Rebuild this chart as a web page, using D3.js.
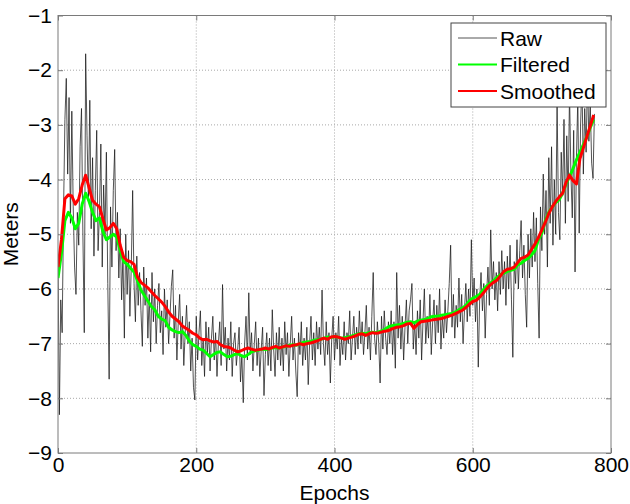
<!DOCTYPE html>
<html>
<head>
<meta charset="utf-8">
<script src="https://cdn.jsdelivr.net/npm/d3@7"></script>
<style>
  body { margin: 0; background: #fff; }
  svg text { font-family: Arial, "Liberation Sans", sans-serif; }
</style>
</head>
<body>
<div id="chart"></div>
<script>
// x ticks / y ticks
var xTicks = [0, 200, 400, 600, 800];
var yTicks = [-9, -8, -7, -6, -5, -4, -3, -2, -1];

// raw samples, one every 2 epochs starting at 0
var rawStep = 2;
var rawValues = [
  -5.5, -8.3, -6.2, -6.8, -4.6, -2.9, -2.15, -3.9, -2.5, -4.8, -2.75, -4.5, -5.6, -6.1, -4.6, -5.2, -3.4, -2.7, -5.0, -6.8,
  -1.7, -3.2, -4.4, -2.55, -4.9, -3.6, -5.4, -4.2, -3.1, -5.3, -4.6, -3.35, -5.6, -4.1, -5.0, -3.5, -5.9, -7.65, -4.5, -5.6,
  -4.2, -3.45, -5.3, -4.6, -5.8, -4.9, -6.2, -5.4, -6.9, -5.0, -6.1, -5.3, -6.5, -5.6, -4.2, -5.9, -6.6, -5.4, -6.3, -5.7,
  -6.4, -7.05, -5.6, -6.3, -5.8, -6.9, -6.1, -7.15, -5.7, -6.6, -6.0, -7.0, -6.3, -5.9, -6.8, -6.4, -7.2, -6.0, -6.7, -6.2,
  -7.0, -6.5, -5.95, -5.65, -6.9, -6.3, -7.3, -6.6, -6.1, -7.1, -6.5, -7.4, -6.8, -6.3, -7.0, -6.6, -7.5, -6.9, -7.8, -8.03,
  -6.5, -7.3, -6.8, -6.4, -7.4, -6.9, -7.6, -6.6, -7.2, -6.7, -7.5, -6.9, -6.5, -7.3, -6.8, -7.6, -7.0, -6.6, -7.4, -5.92,
  -7.1, -6.7, -7.5, -6.9, -7.3, -6.6, -7.6, -7.0, -6.8, -7.4, -7.1, -6.7, -7.7, -7.2, -8.08, -7.0, -6.5, -7.3, -6.07, -7.2,
  -6.8, -7.5, -7.0, -6.6, -7.4, -6.9, -7.6, -7.1, -6.7, -7.95, -7.2, -6.8, -7.4, -6.9, -7.5, -6.38, -7.1, -7.6, -6.8, -7.3,
  -6.7, -7.4, -6.9, -7.5, -6.6, -7.2, -6.8, -7.6, -7.0, -6.5, -7.3, -6.9, -7.5, -7.97, -6.8, -7.2, -6.6, -7.4, -6.9, -7.3,
  -6.7, -7.75, -7.0, -6.5, -7.3, -6.8, -7.4, -6.6, -7.1, -6.7, -7.2, -6.02, -7.0, -7.4, -6.6, -7.2, -6.8, -7.72, -6.9, -6.5,
  -7.3, -6.8, -7.1, -6.5, -7.4, -6.9, -7.2, -6.6, -7.3, -6.8, -7.0, -6.4, -7.3, -6.9, -6.5, -7.2, -6.7, -7.1, -6.4, -7.0,
  -6.6, -7.2, -6.8, -6.3, -7.1, -6.7, -7.3, -6.5, -5.7, -6.9, -7.2, -6.6, -7.0, -7.72, -6.5, -7.1, -6.4, -6.9, -7.2, -6.6,
  -7.0, -6.4, -7.2, -6.6, -7.45, -5.7, -6.9, -6.3, -7.1, -6.5, -7.3, -6.7, -6.2, -7.0, -6.4, -6.2, -5.9, -7.1, -6.6, -7.2,
  -6.4, -6.9, -6.2, -7.3, -6.6, -6.0, -7.0, -6.5, -6.9, -6.1, -7.2, -6.6, -6.2, -7.0, -6.3, -6.8, -6.0, -7.1, -6.5, -6.9,
  -6.2, -6.8, -6.4, -5.9, -5.2, -6.7, -6.1, -6.9, -6.3, -6.7, -5.8, -6.6, -6.1, -7.0, -6.4, -5.9, -6.6, -6.0, -6.5, -5.1,
  -6.3, -5.8, -6.6, -6.0, -7.43, -6.2, -5.7, -6.4, -5.9, -6.9, -6.1, -5.6, -6.3, -4.92, -6.0, -5.5, -6.2, -5.7, -6.4, -5.5,
  -6.1, -5.3, -6.0, -5.5, -6.3, -5.4, -6.0, -5.2, -6.2, -7.25, -5.5, -5.9, -5.1, -6.0, -5.3, -4.75, -5.8, -5.2, -6.1, -6.7,
  -5.0, -5.8, -4.9, -5.6, -4.6, -5.5, -4.7, -5.9, -6.9, -4.5, -5.3, -3.9, -5.0, -4.2, -5.6, -3.6, -4.8, -3.4, -5.2, -4.0,
  -5.0, -2.6, -4.6, -5.1, -3.5, -4.3, -2.9, -4.8, -3.2, -4.4, -2.4, -3.9, -4.7, -3.1, -5.69, -3.6, -2.5, -4.98, -3.0, -2.2,
  -3.9, -2.7, -3.5, -2.1, -3.3, -2.6, -3.7, -3.98, -2.8
];

// filtered and smoothed, one every 5 epochs starting at 0
var fitStep = 5;
var filteredValues = [
  -5.8, -5.35, -4.75, -4.6, -4.7, -4.9, -4.8, -4.45, -4.25, -4.4, -4.6, -4.75, -4.7, -4.95, -5.1, -5.05, -5.0, -5.05, -5.3, -5.5,
  -5.55, -5.62, -5.69, -5.85, -6.02, -6.12, -6.22, -6.32, -6.38, -6.5, -6.55, -6.58, -6.7, -6.75, -6.78, -6.8, -6.78, -6.85, -6.95, -7.02,
  -7.05, -7.1, -7.12, -7.18, -7.24, -7.2, -7.16, -7.15, -7.2, -7.24, -7.23, -7.2, -7.18, -7.22, -7.24, -7.2, -7.15, -7.13, -7.12, -7.1,
  -7.11, -7.1, -7.08, -7.07, -7.08, -7.06, -7.05, -7.03, -7.02, -7.03, -7.0, -6.98, -6.97, -6.96, -6.94, -6.93, -6.92, -6.9, -6.88, -6.89,
  -6.87, -6.88, -6.9, -6.89, -6.88, -6.86, -6.84, -6.82, -6.81, -6.82, -6.8, -6.79, -6.8, -6.78, -6.76, -6.72, -6.68, -6.67, -6.66, -6.65,
  -6.63, -6.61, -6.6, -6.62, -6.59, -6.57, -6.56, -6.54, -6.51, -6.5, -6.5, -6.48, -6.47, -6.46, -6.45, -6.42, -6.38, -6.35, -6.3, -6.22,
  -6.17, -6.14, -6.1, -6.02, -5.95, -5.9, -5.85, -5.79, -5.74, -5.71, -5.68, -5.66, -5.64, -5.56, -5.53, -5.48, -5.44, -5.38, -5.3, -5.1,
  -4.98, -4.75, -4.6, -4.5, -4.42, -4.37, -4.25, -4.08, -3.95, -3.8, -3.64, -3.5, -3.36, -3.22, -3.05, -2.9
];
var smoothedValues = [
  -5.6, -5.1, -4.35, -4.28, -4.3, -4.45, -4.35, -4.1, -3.92, -4.15, -4.38, -4.45, -4.5, -4.72, -4.92, -4.88, -4.8, -4.9, -5.2, -5.42,
  -5.48, -5.5, -5.55, -5.78, -5.88, -5.93, -5.98, -6.05, -6.12, -6.18, -6.24, -6.32, -6.42, -6.5, -6.55, -6.6, -6.68, -6.72, -6.76, -6.81,
  -6.84, -6.9, -6.93, -6.92, -6.95, -6.97, -6.96, -7.02, -7.05, -7.06, -7.08, -7.12, -7.15, -7.13, -7.1, -7.08, -7.1, -7.12, -7.11, -7.1,
  -7.08, -7.1, -7.07, -7.05, -7.08, -7.06, -7.04, -7.05, -7.03, -7.02, -7.0, -7.02, -7.0, -6.99, -6.97, -6.95, -6.92, -6.9, -6.92, -6.88,
  -6.87, -6.88, -6.9, -6.92, -6.9, -6.88, -6.86, -6.83, -6.82, -6.85, -6.82, -6.8, -6.81, -6.8, -6.78, -6.77, -6.75, -6.72, -6.7, -6.69,
  -6.67, -6.64, -6.63, -6.72, -6.65, -6.6, -6.59, -6.58, -6.57, -6.56, -6.55, -6.54, -6.52, -6.5, -6.48, -6.45, -6.42, -6.39, -6.34, -6.28,
  -6.23, -6.21, -6.15, -6.08, -6.0, -5.93, -5.88, -5.84, -5.76, -5.68, -5.64, -5.63, -5.6, -5.52, -5.44, -5.42, -5.38, -5.28, -5.18, -5.06,
  -4.92, -4.78, -4.62, -4.5, -4.4, -4.32, -4.25, -4.05, -3.92, -4.02, -4.08, -3.62, -3.42, -3.22, -3.02, -2.82
];

var legendNames = ["Raw", "Filtered", "Smoothed"];
var legendColors = ["#1a1a1a", "#00ff00", "#ff0000"];
var legendWidths = [0.75, 3, 3];

var W = 630, H = 504;
var margin = {top: 15.5, right: 19, bottom: 51, left: 58};
var width = W - margin.left - margin.right,
    height = H - margin.top - margin.bottom;

var svg = d3.select("#chart").append("svg")
  .attr("width", W)
  .attr("height", H);

var g = svg.append("g")
  .attr("transform", "translate(" + margin.left + "," + margin.top + ")");

var x = d3.scaleLinear().domain([0, 800]).range([0, width]);
var y = d3.scaleLinear().domain([-9, -1]).range([height, 0]);

// dotted grid
g.selectAll(".vgrid").data(xTicks.slice(1, -1)).enter().append("line")
  .attr("x1", d => x(d)).attr("x2", d => x(d))
  .attr("y1", 0).attr("y2", height)
  .attr("stroke", "#a8a8a8").attr("stroke-width", 1)
  .attr("stroke-dasharray", "1,2");
g.selectAll(".hgrid").data(yTicks.slice(1, -1)).enter().append("line")
  .attr("y1", d => y(d)).attr("y2", d => y(d))
  .attr("x1", 0).attr("x2", width)
  .attr("stroke", "#a8a8a8").attr("stroke-width", 1)
  .attr("stroke-dasharray", "1,2");

// clip for the data
svg.append("defs").append("clipPath").attr("id", "plotclip")
  .append("rect").attr("width", width).attr("height", height);

var plot = g.append("g").attr("clip-path", "url(#plotclip)");

var rawLine = d3.line()
  .x((d, i) => x(i * rawStep))
  .y(d => y(d));
var fitLine = d3.line()
  .x((d, i) => x(i * fitStep))
  .y(d => y(d));

plot.append("path")
  .datum(rawValues)
  .attr("fill", "none")
  .attr("stroke", legendColors[0])
  .attr("stroke-width", legendWidths[0])
  .attr("d", rawLine);

plot.append("path")
  .datum(filteredValues)
  .attr("fill", "none")
  .attr("stroke", legendColors[1])
  .attr("stroke-width", legendWidths[1])
  .attr("stroke-linejoin", "round")
  .attr("d", fitLine);

plot.append("path")
  .datum(smoothedValues)
  .attr("fill", "none")
  .attr("stroke", legendColors[2])
  .attr("stroke-width", legendWidths[2])
  .attr("stroke-linejoin", "round")
  .attr("d", fitLine);

// axes box
var axisColor = "#7a7a7a";
function styleAxis(sel) {
  sel.select(".domain").remove();
  sel.selectAll(".tick line").attr("stroke", axisColor);
  sel.selectAll(".tick text")
    .attr("fill", "#000")
    .style("font-size", "21px");
}

g.append("g")
  .attr("transform", "translate(0," + height + ")")
  .call(d3.axisBottom(x).tickValues(xTicks).tickSize(-5).tickPadding(4))
  .call(styleAxis);

g.append("g")
  .call(d3.axisTop(x).tickValues(xTicks).tickSize(-5).tickFormat(""))
  .call(styleAxis);

g.append("g")
  .call(d3.axisLeft(y).tickValues(yTicks).tickSize(-5).tickPadding(6))
  .call(styleAxis);

g.append("g")
  .attr("transform", "translate(" + width + ",0)")
  .call(d3.axisRight(y).tickValues(yTicks).tickSize(-5).tickFormat(""))
  .call(styleAxis);

g.append("rect")
  .attr("width", width)
  .attr("height", height)
  .attr("fill", "none")
  .attr("stroke", axisColor)
  .attr("stroke-width", 1);

// axis titles
g.append("text")
  .attr("x", width / 2)
  .attr("y", height + 47)
  .attr("text-anchor", "middle")
  .style("font-size", "21px")
  .text("Epochs");

g.append("text")
  .attr("transform", "rotate(-90)")
  .attr("x", -height / 2)
  .attr("y", -40)
  .attr("text-anchor", "middle")
  .style("font-size", "21px")
  .text("Meters");

// legend
var legend = svg.append("g").attr("transform", "translate(451,23)");
legend.append("rect")
  .attr("width", 155)
  .attr("height", 84)
  .attr("fill", "#fff")
  .attr("stroke", "#444")
  .attr("stroke-width", 1);

var items = legend.selectAll(".item").data(legendNames).enter().append("g")
  .attr("transform", (d, i) => "translate(0," + (15 + i * 26.5) + ")");

items.append("line")
  .attr("x1", 7).attr("x2", 46)
  .attr("stroke", (d, i) => i === 0 ? "#555" : legendColors[i])
  .attr("stroke-width", (d, i) => i === 0 ? 1 : 2);

items.append("text")
  .attr("x", 49)
  .attr("dy", "0.36em")
  .style("font-size", "21px")
  .text(d => d);
</script>
</body>
</html>
